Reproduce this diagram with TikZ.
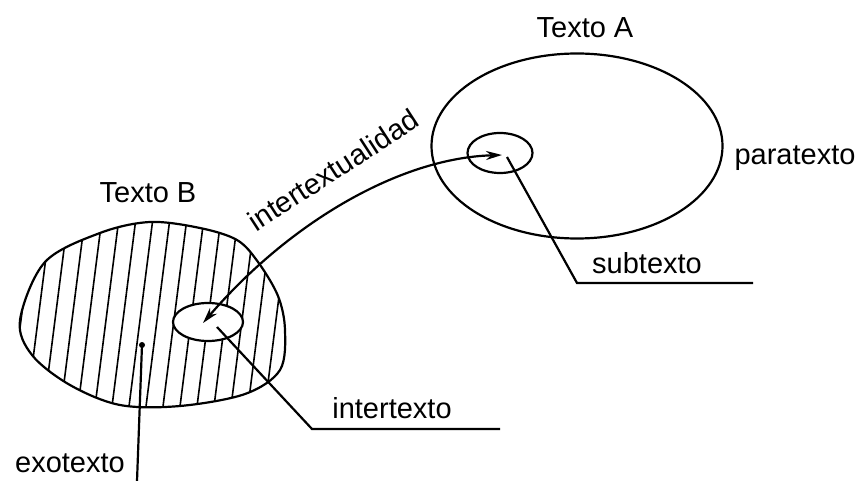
\documentclass[tikz,border=0pt]{standalone}
\usepackage{fontspec}
\setmainfont{Liberation Sans}
\usetikzlibrary{shapes.geometric,arrows.meta}
\begin{document}
\begin{tikzpicture}[x=1pt,y=-1pt,line width=2.2pt,
  lbl/.style={font=\fontsize{29}{34}\selectfont,inner sep=0pt,anchor=base},
  elli/.style={ellipse,draw,inner sep=0pt},
  hatchline/.style={line width=1.6pt}]
\useasboundingbox (0,0) rectangle (856,481);
\def\Bshape{plot[smooth cycle,tension=0.55] coordinates {
  (20,320) (45,262) (100,233) (150,222) (200,228) (237,240) (258,262)
  (278,296) (285,330) (280,370) (245,394) (180,406) (120,405) (70,385) (32,355)}}
% hatching of Texto B
\begin{scope}
  \clip \Bshape;
  \foreach \x in {-10,7,...,300} \draw[hatchline] (\x,430) -- (\x+28,210);
\end{scope}
\draw \Bshape;
% small ellipse in B
\node[elli,fill=white,minimum width=70pt,minimum height=38pt] (sb) at (208,322) {};
% Texto A
\node[elli,minimum width=291pt,minimum height=185pt] (ea) at (577,146) {};
\node[elli,minimum width=65pt,minimum height=40pt] (sa) at (500,153) {};
% labels
\node[lbl] (ta) at (585,38) {Texto A};
\node[lbl] (tb) at (148,202) {Texto B};
\node[lbl] (para) at (795,165) {paratexto};
\node[lbl] (sub) at (647,273) {subtexto};
\node[lbl] (itx) at (392,418) {intertexto};
\node[lbl] (exo) at (70,472) {exotexto};
\node[lbl,rotate=33,anchor=center] (itl) at (333,170) {intertextualidad};
% intertextuality arrow
\draw[{Stealth[length=16pt,width=9pt]}-{Stealth[length=16pt,width=9pt]}]
  ([shift={(-5,1)}]sb.center) .. controls (290,222) and (400,158) .. ([shift={(2,2)}]sa.center);
% subtexto leader
\coordinate (subk) at (577,283);
\coordinate (sube) at (753,283);
\draw ([shift={(7,4)}]sa.center) -- (subk) -- (sube);
% intertexto leader
\coordinate (itk) at (312,429);
\coordinate (ite) at (500,429);
\draw ([shift={(9,5)}]sb.center) -- (itk) -- (ite);
% exotexto leader
\coordinate (exod) at (142,345);
\coordinate (exoe) at (137,481);
\fill (exod) circle (3);
\draw (exod) -- (exoe);
\end{tikzpicture}
\end{document}
